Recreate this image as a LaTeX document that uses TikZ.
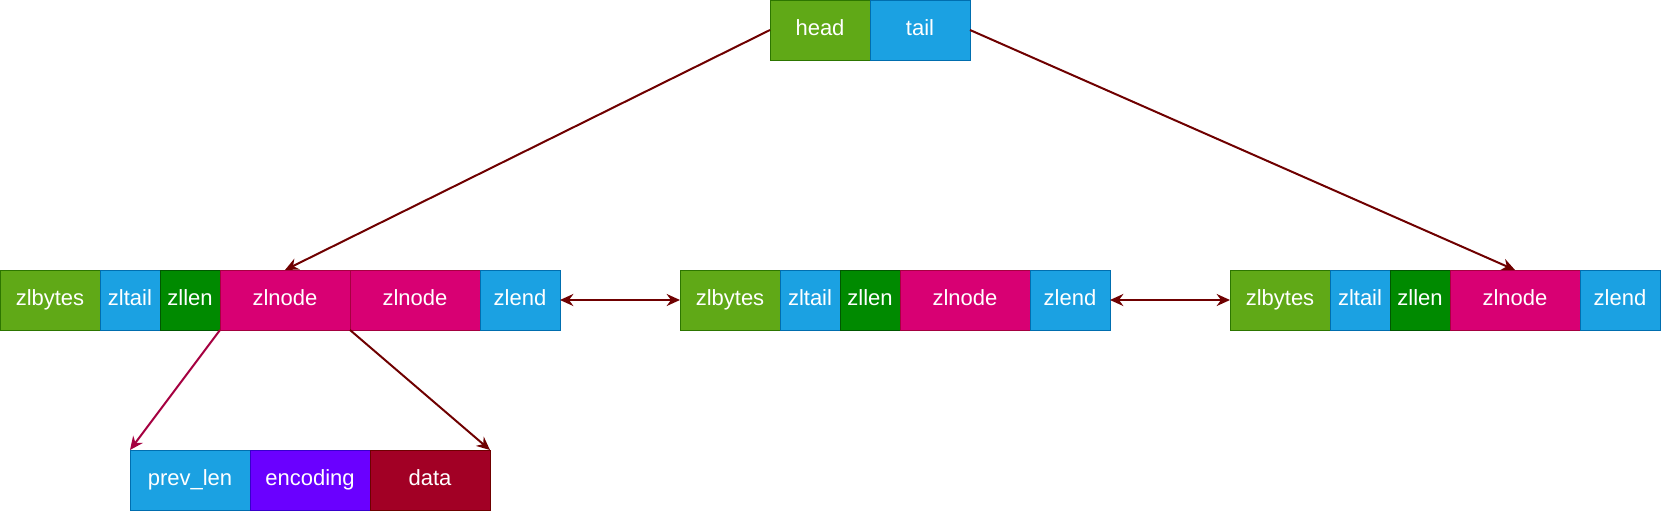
\documentclass[tikz,border=0pt]{standalone}
\usepackage{fontspec}
\setmainfont{Liberation Sans}
\usepackage{tikz}
\usetikzlibrary{arrows.meta,positioning}

\definecolor{grnF}{HTML}{60A917}\definecolor{grnD}{HTML}{2D7600}
\definecolor{bluF}{HTML}{1BA1E2}\definecolor{bluD}{HTML}{006EAF}
\definecolor{dgrF}{HTML}{008A00}\definecolor{dgrD}{HTML}{005700}
\definecolor{pnkF}{HTML}{D80073}\definecolor{pnkD}{HTML}{A50040}
\definecolor{purF}{HTML}{6A00FF}\definecolor{purD}{HTML}{3700CC}
\definecolor{redF}{HTML}{A20025}\definecolor{redD}{HTML}{6F0000}

\tikzset{
  cell/.style={draw,rectangle,line width=0.75pt,outer sep=0pt,inner sep=0pt,
    minimum height=45pt,text height=11.5pt,text depth=3.5pt,text=white,
    font=\fontsize{16.5}{19}\selectfont},
  zbytes/.style={cell,fill=grnF,draw=grnD,minimum width=75pt},
  ztail/.style={cell,fill=bluF,draw=bluD,minimum width=45pt},
  zlen/.style={cell,fill=dgrF,draw=dgrD,minimum width=45pt},
  znode/.style={cell,fill=pnkF,draw=pnkD,minimum width=97.5pt},
  zend/.style={cell,fill=bluF,draw=bluD,minimum width=60pt},
  link/.style={line width=1.5pt,draw=redD,-{Stealth[length=10pt,width=9pt]}},
  both/.style={link,{Stealth[length=10pt,width=9pt]}-{Stealth[length=10pt,width=9pt]}}
}

\begin{document}
\begin{tikzpicture}[x=0.75pt,y=-0.75pt]
  \useasboundingbox (0,0) rectangle (1661,511);
  % list header
  \node[cell,fill=grnF,draw=grnD,minimum width=75pt,anchor=north west] (head) at (770,0) {head};
  \node[cell,fill=bluF,draw=bluD,minimum width=75pt,right=0pt of head] (tail) {tail};
  % first ziplist
  \node[zbytes,anchor=north west] (la) at (0,270) {zlbytes};
  \node[ztail,right=0pt of la] (lb) {zltail};
  \node[zlen,right=0pt of lb] (lc) {zllen};
  \node[znode,right=0pt of lc] (ld) {zlnode};
  \node[znode,right=0pt of ld] (le) {zlnode};
  \node[zend,right=0pt of le] (lf) {zlend};
  % second ziplist
  \node[zbytes,anchor=north west] (ma) at (680,270) {zlbytes};
  \node[ztail,right=0pt of ma] (mb) {zltail};
  \node[zlen,right=0pt of mb] (mc) {zllen};
  \node[znode,right=0pt of mc] (md) {zlnode};
  \node[zend,right=0pt of md] (me) {zlend};
  % third ziplist
  \node[zbytes,anchor=north west] (ra) at (1230,270) {zlbytes};
  \node[ztail,right=0pt of ra] (rb) {zltail};
  \node[zlen,right=0pt of rb] (rc) {zllen};
  \node[znode,right=0pt of rc] (rd) {zlnode};
  \node[zend,right=0pt of rd] (re) {zlend};
  % entry layout
  \node[cell,fill=bluF,draw=bluD,minimum width=90pt,anchor=north west] (prev) at (130,450) {prev\_len};
  \node[cell,fill=purF,draw=purD,minimum width=90pt,right=0pt of prev] (enc) {encoding};
  \node[cell,fill=redF,draw=redD,minimum width=90pt,right=0pt of enc] (data) {data};

  \draw[link] (head.west) -- (ld.north);
  \draw[link] (tail.east) -- (rd.north);
  \draw[both] (lf.east) -- (ma.west);
  \draw[both] (me.east) -- (ra.west);
  \draw[link,draw=pnkD] (ld.south west) -- (prev.north west);
  \draw[link] (ld.south east) -- (data.north east);
\end{tikzpicture}
\end{document}
